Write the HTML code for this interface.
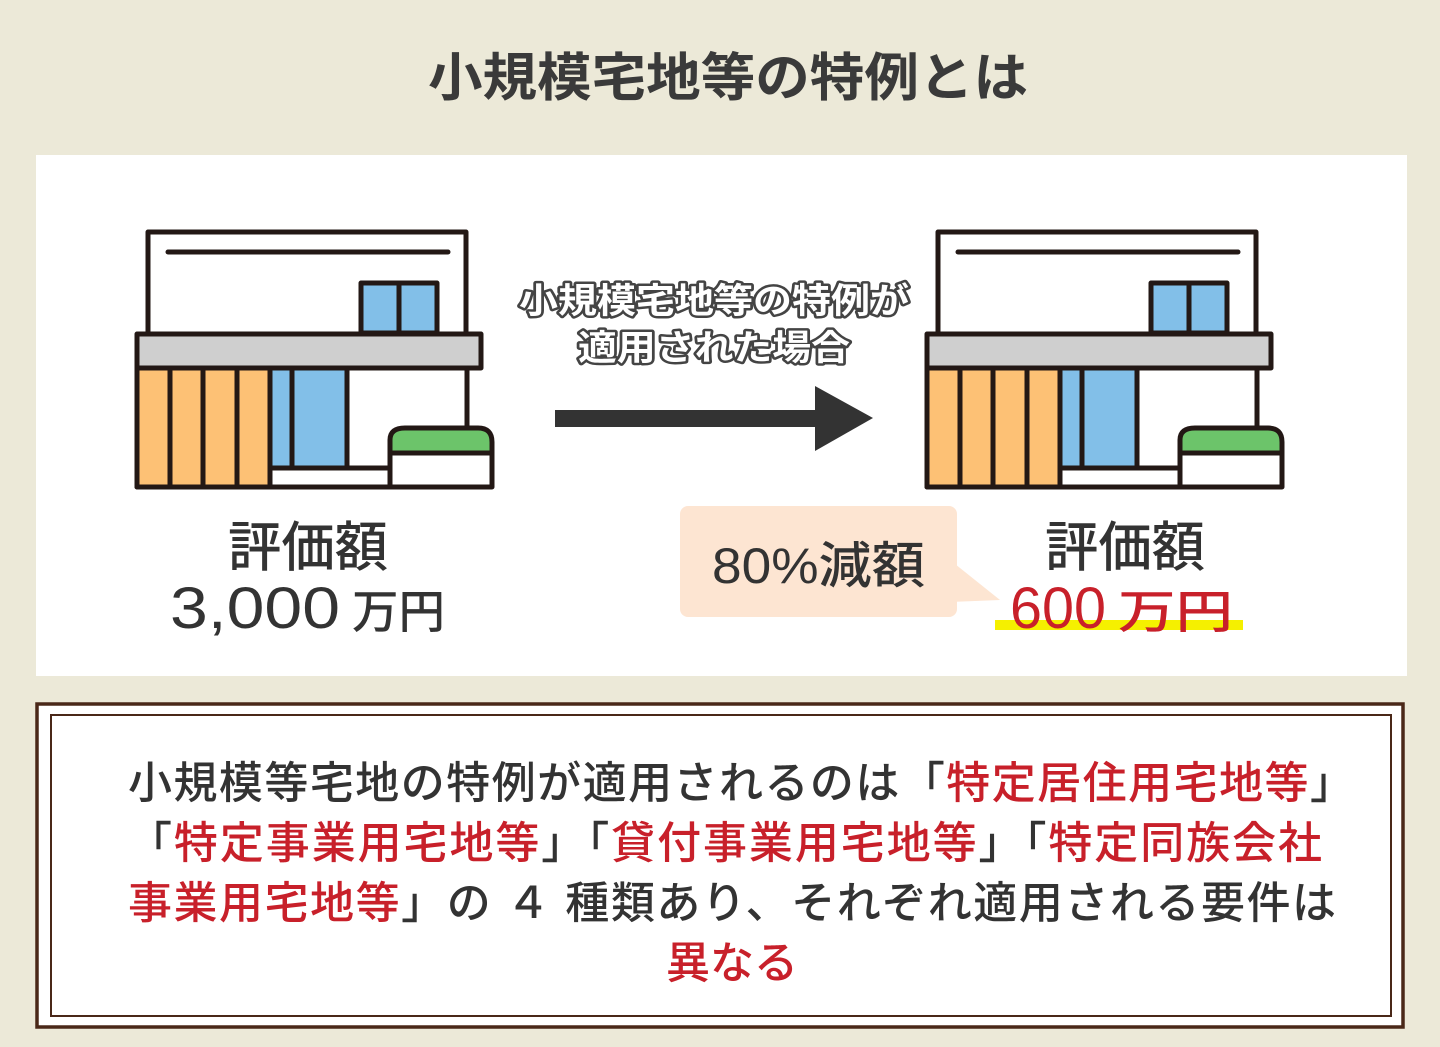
<!DOCTYPE html>
<html><head><meta charset="utf-8"><style>
html,body{margin:0;padding:0;background:#ece9d8;}
svg{display:block;}
text{font-family:"Liberation Sans","Noto Sans CJK JP",sans-serif;}
</style></head><body>
<svg width="1440" height="1047" viewBox="0 0 1440 1047" xmlns="http://www.w3.org/2000/svg">
<rect width="1440" height="1047" fill="#ece9d8"/>
<text x="728" y="96" text-anchor="middle" font-size="52" font-weight="bold" fill="#3a3a3a" textLength="600" lengthAdjust="spacingAndGlyphs">小規模宅地等の特例とは</text>
<rect x="36" y="155" width="1371" height="521" fill="#fff"/>

<defs>
<g id="house" stroke="#231815" stroke-width="5" stroke-linejoin="round">
  <rect x="148" y="232" width="318" height="110" fill="#fff"/>
  <line x1="168" y1="252" x2="448" y2="252" stroke-linecap="round"/>
  <rect x="361" y="283" width="76" height="50" fill="#82bfe8"/>
  <line x1="399" y1="283" x2="399" y2="333"/>
  <rect x="137" y="334" width="344" height="34" fill="#cfcfcf"/>
  <rect x="137" y="368" width="330" height="119" fill="#fff"/>
  <rect x="137" y="368" width="133" height="119" fill="#fdc175"/>
  <line x1="170" y1="368" x2="170" y2="487"/>
  <line x1="203" y1="368" x2="203" y2="487"/>
  <line x1="237" y1="368" x2="237" y2="487"/>
  <rect x="270" y="368" width="77" height="100" fill="#82bfe8"/>
  <line x1="292" y1="368" x2="292" y2="468"/>
  <line x1="270" y1="468" x2="390" y2="468"/>
  <path d="M390 453 L390 440 Q390 428 405 428 L478 428 Q492 428 492 442 L492 453 Z" fill="#6cc46a"/>
  <rect x="390" y="453" width="102" height="34" fill="#fff"/>
  <line x1="137" y1="487" x2="492" y2="487"/>
</g>
</defs>
<use href="#house"/>
<use href="#house" transform="translate(790,0)"/>

<g font-size="35" font-weight="bold" text-anchor="middle">
<text x="714" y="313" fill="#fff" stroke="#fff" stroke-width="10" stroke-linejoin="round" textLength="390" lengthAdjust="spacingAndGlyphs">小規模宅地等の特例が</text>
<text x="714" y="313" fill="#fff" stroke="#444" stroke-width="5" stroke-linejoin="round" paint-order="stroke" textLength="390" lengthAdjust="spacingAndGlyphs">小規模宅地等の特例が</text>
<text x="714" y="360" fill="#fff" stroke="#fff" stroke-width="10" stroke-linejoin="round" textLength="272" lengthAdjust="spacingAndGlyphs">適用された場合</text>
<text x="714" y="360" fill="#fff" stroke="#444" stroke-width="5" stroke-linejoin="round" paint-order="stroke" textLength="272" lengthAdjust="spacingAndGlyphs">適用された場合</text>
</g>
<rect x="555" y="410" width="265" height="17" fill="#333"/>
<polygon points="815,386 873,418 815,451" fill="#333"/>

<text x="308" y="566" text-anchor="middle" font-size="54" font-weight="500" fill="#333" textLength="160" lengthAdjust="spacingAndGlyphs">評価額</text>
<text x="170" y="628" font-size="58" fill="#333" textLength="170" lengthAdjust="spacingAndGlyphs">3,000</text>
<text x="352" y="628" font-size="46" font-weight="500" fill="#333" textLength="93" lengthAdjust="spacingAndGlyphs">万円</text>

<rect x="680" y="506" width="277" height="111" rx="8" fill="#fde5d2"/>
<polygon points="950,560 1000,600 950,602" fill="#fde5d2"/>
<text x="712" y="583" font-size="50" fill="#333" font-weight="500" textLength="213" lengthAdjust="spacingAndGlyphs">80%減額</text>

<text x="1125" y="566" text-anchor="middle" font-size="54" font-weight="500" fill="#333" textLength="160" lengthAdjust="spacingAndGlyphs">評価額</text>
<rect x="995" y="620" width="248" height="10" fill="#f5f000"/>
<text x="1010" y="628" font-size="58" fill="#c8202a" textLength="96" lengthAdjust="spacingAndGlyphs">600</text>
<text x="1118" y="628" font-size="46" font-weight="500" fill="#c8202a" textLength="115" lengthAdjust="spacingAndGlyphs">万円</text>

<rect x="37" y="704" width="1366" height="323" fill="#fff" stroke="#4a2818" stroke-width="3.5"/>
<rect x="51" y="715" width="1340" height="301" fill="none" stroke="#4a2818" stroke-width="2"/>
<g font-size="44" font-weight="500" fill="#333">
<text x="128" y="798" textLength="1226" lengthAdjust="spacing">小規模等宅地の特例が適用されるのは「<tspan fill="#c8202a">特定居住用宅地等</tspan>」</text>
<text x="128" y="858" textLength="1194" lengthAdjust="spacing">「<tspan fill="#c8202a">特定事業用宅地等</tspan>」「<tspan fill="#c8202a">貸付事業用宅地等</tspan>」「<tspan fill="#c8202a">特定同族会社</tspan></text>
<text x="128" y="918" textLength="1208" lengthAdjust="spacing"><tspan fill="#c8202a">事業用宅地等</tspan>」の ４ 種類あり、それぞれ適用される要件は</text>
<text x="732" y="978" text-anchor="middle" fill="#c8202a">異なる</text>
</g>
</svg>
</body></html>
